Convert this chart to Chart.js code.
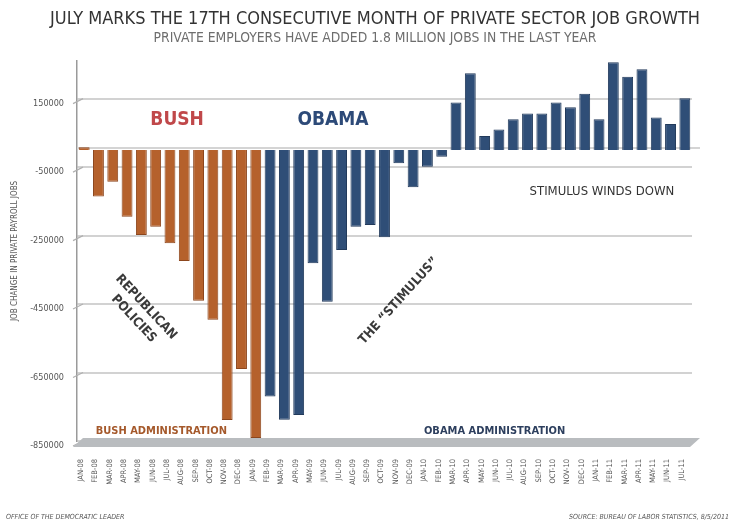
<!DOCTYPE html>
<html>
<head>
<meta charset="utf-8">
<script src="https://cdn.jsdelivr.net/npm/chart.js@4.4.0/dist/chart.umd.min.js"></script>
<style>
  html, body { margin: 0; padding: 0; background: #fff; }
  canvas { display: block; }
</style>
</head>
<body>
<canvas id="jobsChart" width="729" height="522"></canvas>
<script>
// Monthly change in private payroll jobs, Jan 2008 - Jul 2011
const months = [
  'JAN-08', 'FEB-08', 'MAR-08', 'APR-08', 'MAY-08', 'JUN-08', 'JUL-08', 'AUG-08', 'SEP-08', 'OCT-08', 'NOV-08', 'DEC-08',
  'JAN-09', 'FEB-09', 'MAR-09', 'APR-09', 'MAY-09', 'JUN-09', 'JUL-09', 'AUG-09', 'SEP-09', 'OCT-09', 'NOV-09', 'DEC-09',
  'JAN-10', 'FEB-10', 'MAR-10', 'APR-10', 'MAY-10', 'JUN-10', 'JUL-10', 'AUG-10', 'SEP-10', 'OCT-10', 'NOV-10', 'DEC-10',
  'JAN-11', 'FEB-11', 'MAR-11', 'APR-11', 'MAY-11', 'JUN-11', 'JUL-11'
];
const privateJobs = [
  8000, -136000, -93000, -195000, -248000, -224000, -272000, -324000, -440000, -496000, -789000, -640000,
  -841000, -720000, -788000, -774000, -331000, -443000, -292000, -224000, -219000, -255000, -39000, -109000,
  -49000, -20000, 139000, 224000, 41000, 60000, 90000, 107000, 107000, 139000, 125000, 164000,
  90000, 256000, 214000, 236000, 95000, 76000, 151000
];
const bushMonths = 13; // JAN-08 .. JAN-09 drawn in Bush colour
const yTicks = [-850000, -650000, -450000, -250000, -50000, 150000];

const FONT = "'Liberation Sans Narrow', 'Arial Narrow', 'DejaVu Sans Condensed', sans-serif";

// text notes placed in data coordinates (x = month index, y = job change)
const notes = [
  { lines: ['BUSH'], x: 6.5, y: 88000, color: '#c0484a', font: 'bold 19px', angle: 0 },
  { lines: ['OBAMA'], x: 17.4, y: 88000, color: '#2d4a78', font: 'bold 19px', angle: 0 },
  { lines: ['STIMULUS WINDS DOWN'], x: 36.2, y: -123000, color: '#333', font: '13px', angle: 0 },
  { lines: ['REPUBLICAN', 'POLICIES'], x: 3.9, y: -476000, color: '#3a3a3a', font: 'bold 13px', angle: 47 },
  { lines: ['THE \u201CSTIMULUS\u201D'], x: 22.0, y: -441000, color: '#3a3a3a', font: 'bold 13px', angle: -48 },
  { lines: ['BUSH ADMINISTRATION'], x: 5.4, y: -821000, color: '#a5592b', font: 'bold 11px', angle: 0 },
  { lines: ['OBAMA ADMINISTRATION'], x: 28.7, y: -821000, color: '#2d3f5e', font: 'bold 11px', angle: 0 }
];

const decorPlugin = {
  id: 'decor',
  beforeDatasetsDraw(chart) {
    const ctx = chart.ctx;
    const a = chart.chartArea;
    const y = chart.scales.y;
    ctx.save();
    // zero line
    ctx.strokeStyle = '#d4d4d4';
    ctx.lineWidth = 2;
    ctx.beginPath();
    ctx.moveTo(a.left, y.getPixelForValue(0) - 2);
    ctx.lineTo(a.right + 8, y.getPixelForValue(0) - 2);
    ctx.stroke();
    // little connectors from the axis to each gridline
    ctx.strokeStyle = '#b0b0b0';
    ctx.lineWidth = 1.2;
    yTicks.forEach(v => {
      const py = y.getPixelForValue(v);
      ctx.beginPath();
      ctx.moveTo(a.left - 4, py + 5);
      ctx.lineTo(a.left + 6, py);
      ctx.stroke();
    });
    // grey floor
    const b = a.bottom;
    ctx.fillStyle = '#b9bcbf';
    ctx.beginPath();
    ctx.moveTo(a.left + 6, b - 3);
    ctx.lineTo(a.right + 8, b - 3);
    ctx.lineTo(a.right - 2, b + 6);
    ctx.lineTo(a.left - 4, b + 6);
    ctx.closePath();
    ctx.fill();
    ctx.restore();
  },
  afterDraw(chart) {
    const ctx = chart.ctx;
    const xs = chart.scales.x;
    const ys = chart.scales.y;
    ctx.save();
    ctx.textAlign = 'center';
    ctx.textBaseline = 'middle';

    notes.forEach(n => {
      const px = xs.getPixelForValue(n.x);
      const py = ys.getPixelForValue(n.y);
      ctx.save();
      ctx.translate(px, py);
      ctx.rotate(n.angle * Math.PI / 180);
      ctx.font = n.font + ' ' + FONT;
      ctx.fillStyle = n.color;
      const lh = 17;
      n.lines.forEach((t, i) => {
        ctx.fillText(t, 0, (i - (n.lines.length - 1) / 2) * lh);
      });
      ctx.restore();
    });

    // title and subtitle
    ctx.fillStyle = '#333';
    ctx.font = '18px ' + FONT;
    ctx.fillText('JULY MARKS THE 17TH CONSECUTIVE MONTH OF PRIVATE SECTOR JOB GROWTH', 375, 19);
    ctx.fillStyle = '#6e6e6e';
    ctx.font = '13.8px ' + FONT;
    ctx.fillText('PRIVATE EMPLOYERS HAVE ADDED 1.8 MILLION JOBS IN THE LAST YEAR', 375, 38);

    // footer
    ctx.font = 'italic 7px ' + FONT;
    ctx.fillStyle = '#555';
    ctx.textAlign = 'left';
    ctx.fillText('OFFICE OF THE DEMOCRATIC LEADER', 6, 517);
    ctx.textAlign = 'right';
    ctx.fillText('SOURCE: BUREAU OF LABOR STATISTICS, 8/5/2011', 729, 517);
    ctx.restore();
  }
};

new Chart(document.getElementById('jobsChart'), {
  type: 'bar',
  data: {
    labels: months,
    datasets: [{
      label: 'Job change in private payroll jobs',
      data: privateJobs,
      backgroundColor: ctx => ctx.dataIndex < bushMonths ? '#b5612c' : '#2f4e77',
      borderColor: ctx => ctx.dataIndex < bushMonths ? '#8c461d' : '#223a5b',
      borderWidth: 1,
      barPercentage: 0.76,
      categoryPercentage: 1.0
    }]
  },
  options: {
    responsive: false,
    animation: false,
    layout: { padding: { top: 61, right: 37, bottom: 21, left: 0 } },
    plugins: {
      legend: { display: false },
      tooltip: { enabled: false }
    },
    scales: {
      x: {
        grid: { display: false },
        border: { display: false },
        ticks: {
          autoSkip: false,
          minRotation: 90,
          maxRotation: 90,
          padding: 10,
          labelOffset: -3,
          color: '#555',
          font: { family: FONT, size: 7.5 }
        },
        afterFit: scale => { scale.height = 60; }
      },
      y: {
        min: -850000,
        max: 260000,
        afterBuildTicks: scale => { scale.ticks = yTicks.map(v => ({ value: v })); },
        grid: { color: '#d2d2d2', lineWidth: 2, drawTicks: false },
        border: { display: true, color: '#9a9a9a', width: 1.5 },
        ticks: {
          padding: 13,
          labelOffset: 5,
          color: '#555',
          font: { family: FONT, size: 9 },
          callback: v => String(v)
        },
        title: {
          display: true,
          text: 'JOB CHANGE IN PRIVATE PAYROLL JOBS',
          color: '#555',
          font: { family: FONT, size: 8 },
          padding: { top: 10, bottom: 0 }
        },
        afterFit: scale => { scale.width = 77; }
      }
    }
  },
  plugins: [decorPlugin]
});
</script>
</body>
</html>
